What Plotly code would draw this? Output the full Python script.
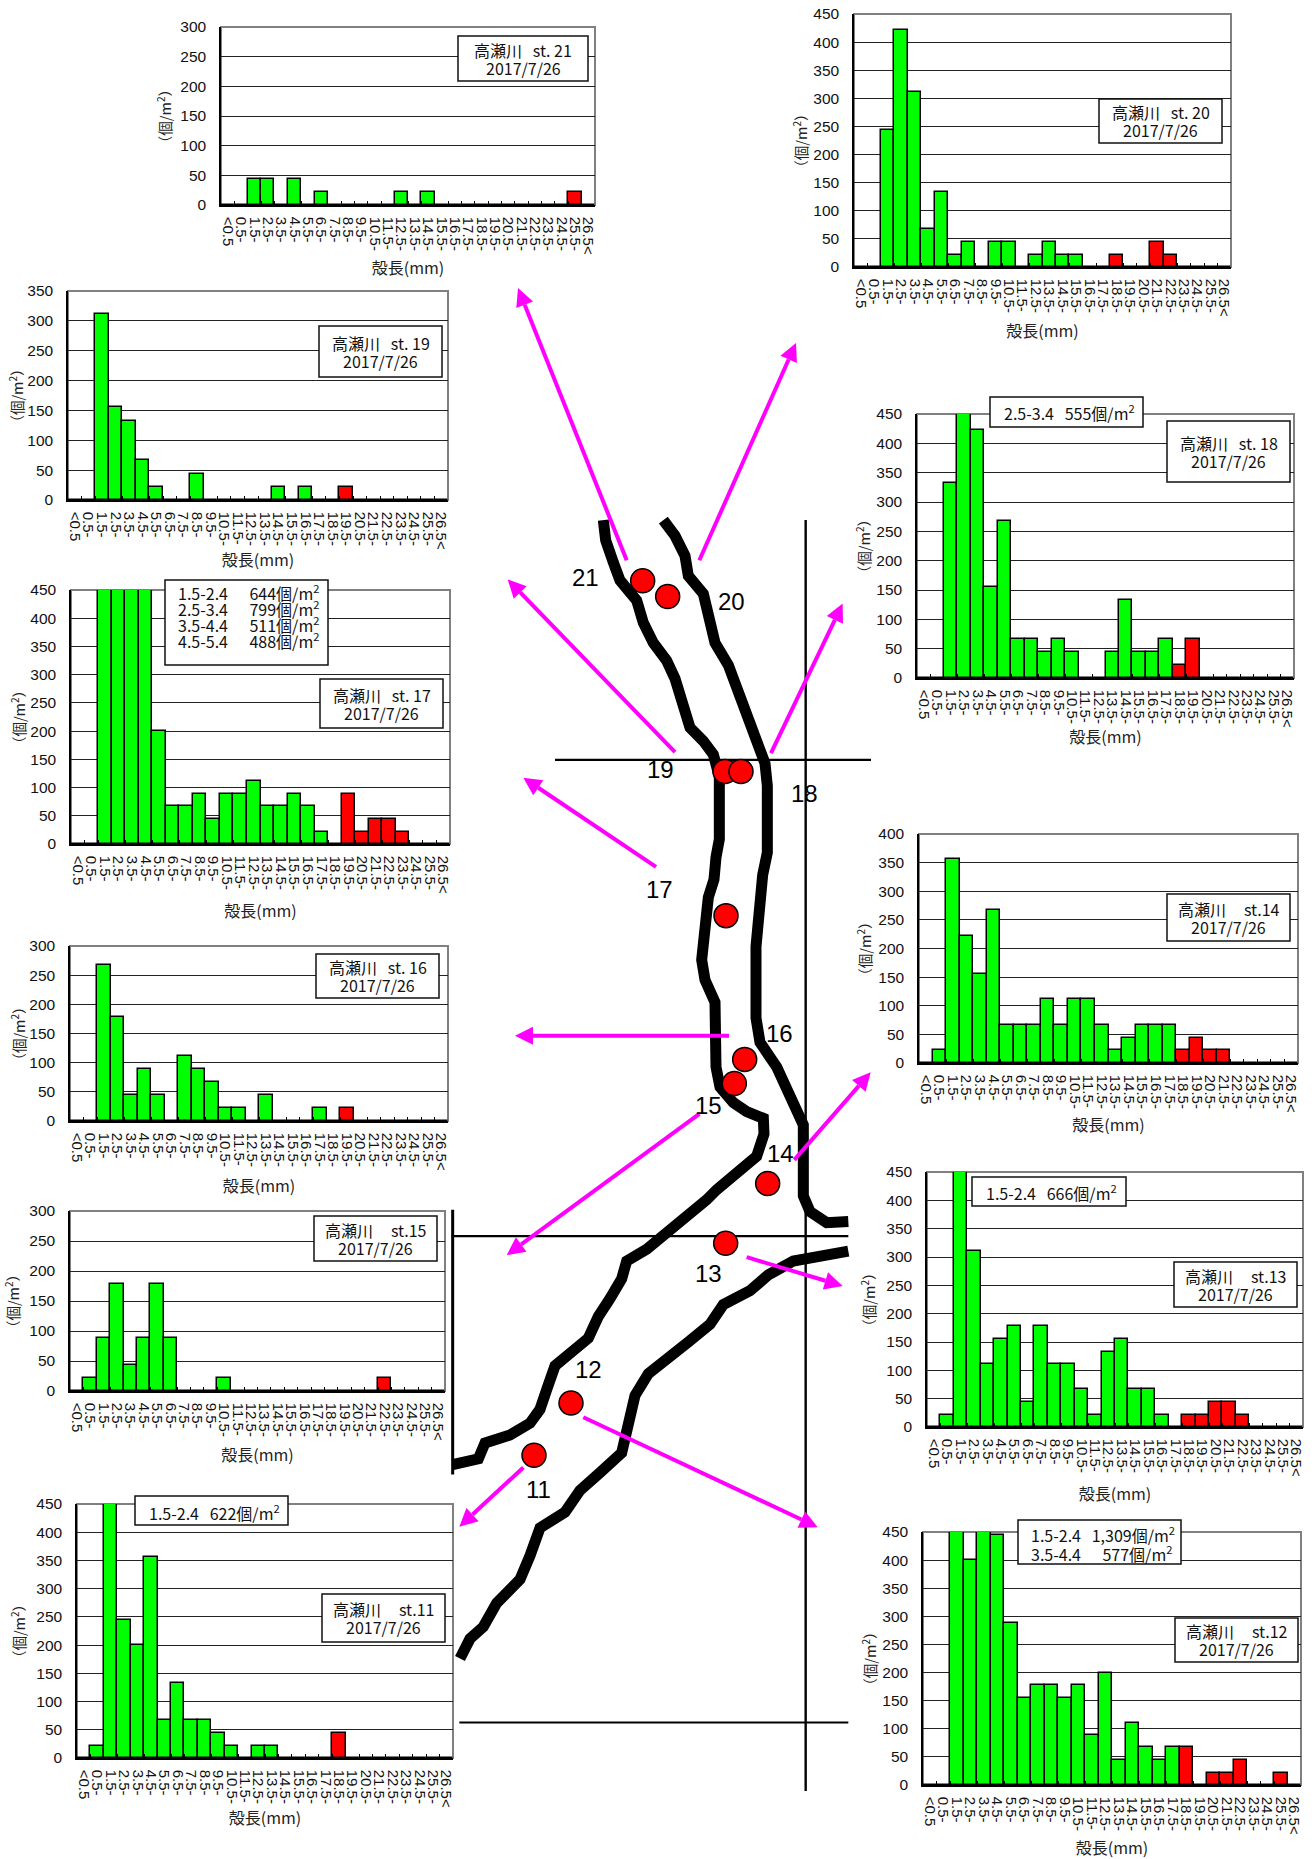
import math
import plotly.graph_objects as go

W, H = 1314, 1859
NB = "\u00a0"
size_classes = ["<0.5"] + [f"{i}.5-" for i in range(0, 26)] + ["26.5<"]

st21 = [0,0,44,44,0,44,0,22,0,0,0,0,0,22,0,22,0,0,0,0,0,0,0,0,0,0,22,0]
st20 = [0,0,244,422,311,67,133,22,44,0,44,44,0,22,44,22,22,0,0,22,0,0,44,22,0,0,0,0]
st19 = [0,0,311,155,133,67,22,0,0,44,0,0,0,0,0,22,0,22,0,0,22,0,0,0,0,0,0,0]
st18 = [0,0,333,555,422,155,267,67,67,44,67,44,0,0,44,133,44,44,67,22,67,0,0,0,0,0,0,0]
st17 = [0,0,644,799,511,488,200,67,67,89,44,89,89,111,67,67,89,67,22,0,89,22,44,44,22,0,0,0]
st16 = [0,0,267,178,44,89,44,0,111,89,67,22,22,0,44,0,0,0,22,0,22,0,0,0,0,0,0,0]
st15 = [0,22,89,178,44,89,178,89,0,0,0,22,0,0,0,0,0,0,0,0,0,0,0,22,0,0,0,0]
st14 = [0,22,356,222,155,267,67,67,67,111,67,111,111,67,22,44,67,67,67,22,44,22,22,0,0,0,0,0]
st13 = [0,22,666,311,111,155,178,44,178,111,111,67,22,133,155,67,67,22,0,22,22,44,44,22,0,0,0,0]
st12 = [0,0,1309,400,577,444,289,155,178,178,155,178,89,200,44,111,67,44,67,67,0,22,22,44,0,0,22,0]
st11 = [0,22,622,244,200,356,67,133,67,67,44,22,0,22,22,0,0,0,0,44,0,0,0,0,0,0,0,0]

# station, values, first red class, y max, frame (x0,x1,y0,y1), xtitle standoff, ytitle standoff
charts = [
    ("21", st21, 26, 300, (221,595,27,205), 9, 5),
    ("20", st20, 19, 450, (854,1231,14,267), 10, 2),
    ("19", st19, 20, 350, (68,448,291,500), 6, 0),
    ("18", st18, 19, 450, (917,1294,414,678), 5, 2),
    ("17", st17, 20, 450, (71,450,590,844), 13, 1),
    ("16", st16, 20, 300, (70,448,946,1121), 11, 0),
    ("15", st15, 23, 300, (70,445,1211,1391), 10, 6),
    ("14", st14, 19, 400, (919,1298,834,1063), 8, 3),
    ("13", st13, 19, 450, (927,1303,1172,1427), 13, 7),
    ("12", st12, 19, 450, (923,1301,1532,1785), 9, 2),
    ("11", st11, 19, 450, (77,453,1504,1758), 6, 7),
]

title_boxes = [
    ("高瀬川" + NB*3 + "st. 21", 458,588,36,81),
    ("高瀬川" + NB*3 + "st. 20", 1099,1222,99,143),
    ("高瀬川" + NB*3 + "st. 19", 319,442,326,377),
    ("高瀬川" + NB*3 + "st. 18", 1167,1290,421,482),
    ("高瀬川" + NB*3 + "st. 17", 320,443,679,728),
    ("高瀬川" + NB*3 + "st. 16", 316,439,954,998),
    ("高瀬川" + NB*5 + "st.15", 314,437,1216,1261),
    ("高瀬川" + NB*5 + "st.14", 1167,1290,894,941),
    ("高瀬川" + NB*5 + "st.13", 1174,1297,1262,1307),
    ("高瀬川" + NB*5 + "st.12", 1175,1298,1618,1662),
    ("高瀬川" + NB*5 + "st.11", 322,445,1594,1642),
]
survey_date = "2017/7/26"

M2 = "個/m<sup>2</sup>"
# text lines, box (x0,x1,y0,y1), text left, first line y, line step
note_boxes = [
    ([f"2.5-3.4{NB*3}555{M2}"], (990,1143,397,427), 1002, 412, 0),
    ([f"1.5-2.4{NB*6}644{M2}", f"2.5-3.4{NB*6}799{M2}", f"3.5-4.4{NB*6}511{M2}", f"4.5-5.4{NB*6}488{M2}"],
     (165,328,580,665), 176, 592, 16),
    ([f"1.5-2.4{NB*3}666{M2}"], (972,1126,1177,1206), 984, 1192, 0),
    ([f"1.5-2.4{NB*3}1,309{M2}", f"3.5-4.4{NB*6}577{M2}"], (1018,1181,1520,1564), 1029, 1534, 19),
    ([f"1.5-2.4{NB*3}622{M2}"], (135,288,1496,1525), 147, 1512, 0),
]

# map geometry, measured on two crops of the picture
def z3(p):
    return (440 + p[0]/3, 500 + p[1]/2.24)
def z4(p):
    return (440 + p[0]/3, 1180 + p[1]/2.529)

river_left = [z3(p) for p in [(490,45),(497,90),(520,140),(540,180),(590,225),(610,275),(640,320),(680,360),(705,400),
              (725,450),(750,510),(790,540),(820,570),(838,620),(838,760),(828,800),(822,850),(805,890),(795,950),
              (785,1030),(795,1075),(825,1125),(828,1270),(840,1315),(880,1350),(920,1370),(970,1385),(972,1420),
              (950,1470),(900,1500),(860,1520),(830,1545)]] + \
             [z4(p) for p in [(800,50),(750,85),(700,115),(660,140),(620,175),(560,205),(545,250),(510,300),(475,345),
              (445,400),(400,430),(345,470),(320,530),(300,580),(270,615),(210,645),(135,665),(115,705),(38,720)]]
river_right = [z3(p) for p in [(670,45),(705,80),(735,125),(745,170),(790,210),(808,270),(825,320),(865,370),(895,430),
               (925,480),(950,530),(975,590),(982,640),(982,790),(968,840),(955,920),(948,1000),(948,1160),(960,1215),
               (1010,1270),(1050,1330),(1090,1400),(1090,1500)]] + [z4(p) for p in [(1090,40),(1110,80),(1160,108),(1225,105)]]
river_lower = [z4(p) for p in [(1225,180),(1150,190),(1060,205),(985,240),(930,280),(850,315),(810,365),(745,410),(690,445),
               (625,490),(585,545),(565,620),(545,690),(480,740),(420,785),(375,840),(300,880),(270,950),(240,1010),
               (170,1070),(130,1130),(90,1160),(60,1210)]]
straight_lines = [
    (z3((345,582)), z3((1293,582)), 2.2), (z3((1097,45)), z4((1097,1545)), 2.4), (z4((35,142)), z4((1225,142)), 2.2),
    (z4((38,75)), z4((38,745)), 3), (z4((58,1372)), z4((1225,1372)), 2.2),
]
stations = [("21",z3((608,181)),z3((437,173))),("20",z3((683,216)),z3((874,227))),("19",z3((855,608)),z3((660,604))),
            ("18",z3((903,608)),z3((1092,657))),("17",z3((858,931)),z3((659,872))),("16",z3((914,1253)),z3((1019,1194))),
            ("15",z3((883,1307)),z3((805,1356))),("14",z3((983,1531)),z3((1022,1463))),("13",z4((857,160)),z4((804,236))),
            ("12",z4((393,564)),z4((445,478))),("11",z4((282,696)),z4((295,782)))]
arrows = [(z3((560,135)),(518,288)),(z3((778,135)),(796,343)),(z3((705,565)),z3((203,178))),(z3((993,567)),z3((1208,232))),
          (z3((648,822)),z3((250,622))),(z3((867,1200)),z3((225,1200))),(z3((778,1375)),z4((200,190))),
          (z3((1063,1478)),z3((1292,1282))),(z4((920,195)),z4((1208,268))),(z4((430,600)),z4((1133,878))),
          (z4((250,727)),z4((58,877)))]

fig = go.Figure()
layout = dict(width=W, height=H, margin=dict(l=0,r=0,t=0,b=0,autoexpand=False), paper_bgcolor="white",
              plot_bgcolor="rgba(0,0,0,0)", showlegend=False, hovermode=False, bargap=0)
shapes, annos = [], []
LAT = "Liberation Sans"
CJK = "Noto Sans CJK JP"

for i, (st, vals, first_red, ymax, (x0,x1,y0,y1), xst, yst) in enumerate(charts, start=1):
    s = "" if i == 1 else str(i)
    fig.add_trace(go.Bar(x=size_classes, y=vals, xaxis=f"x{s}", yaxis=f"y{s}", width=1,
                         marker=dict(color=["#FF0000" if k >= first_red else "#00FF00" for k in range(len(vals))],
                                     line=dict(color="black", width=1.5))))
    layout[f"xaxis{s}"] = dict(domain=[x0/W, x1/W], anchor=f"y{s}", type="category", categoryorder="array",
        categoryarray=size_classes, range=[-0.5,27.5], tickmode="linear", tick0=0, dtick=1, tickangle=90,
        tickson="boundaries", ticks="inside", ticklen=4, tickwidth=1, tickcolor="black", showgrid=False,
        showline=True, linecolor="black", linewidth=1.5, ticklabelstandoff=7,
        tickfont=dict(family=LAT, size=15, color="#111"),
        title=dict(text="殻長(mm)", standoff=xst, font=dict(family=CJK, size=16, color="#222")))
    layout[f"yaxis{s}"] = dict(domain=[1-y1/H, 1-y0/H], anchor=f"x{s}", range=[0,ymax], dtick=50, tick0=0,
        showgrid=True, gridcolor="#222", gridwidth=1, zeroline=False, showline=True, linecolor="black", linewidth=1.5,
        ticks="", ticklabelstandoff=10, tickfont=dict(family=LAT, size=15.5, color="#111"),
        title=dict(text="（個/m<sup>2</sup>）", standoff=yst, font=dict(family=CJK, size=14.5, color="#222")))
    shapes.append(dict(type="rect", xref="paper", yref="paper", x0=x0/W, x1=x1/W, y0=1-y1/H, y1=1-y0/H,
                       line=dict(color="#808080", width=2), layer="below"))

mx, my = "x12", "y12"
layout["xaxis12"] = dict(domain=[0,1], range=[0,W], visible=False, fixedrange=True, anchor="y12")
layout["yaxis12"] = dict(domain=[0,1], range=[H,0], visible=False, fixedrange=True, anchor="x12")

for pts in (river_left, river_right, river_lower):
    fig.add_trace(go.Scatter(x=[p[0] for p in pts], y=[p[1] for p in pts], mode="lines", xaxis=mx, yaxis=my,
                             line=dict(color="black", width=11)))
for a, b, w in straight_lines:
    fig.add_trace(go.Scatter(x=[a[0],b[0]], y=[a[1],b[1]], mode="lines", xaxis=mx, yaxis=my,
                             line=dict(color="black", width=w)))

for (tx, ty), (hx, hy) in arrows:
    L = math.hypot(hx-tx, hy-ty)
    ux, uy = (hx-tx)/L, (hy-ty)/L
    bx, by = hx-ux*18, hy-uy*18
    shapes.append(dict(type="line", xref=mx, yref=my, x0=tx, y0=ty, x1=bx, y1=by,
                       line=dict(color="#FF00FF", width=4), layer="above"))
    path = f"M {hx} {hy} L {bx-uy*9} {by+ux*9} L {bx+uy*9} {by-ux*9} Z"
    shapes.append(dict(type="path", xref=mx, yref=my, path=path, fillcolor="#FF00FF", line=dict(width=0), layer="above"))

for name, (cx, cy), (tx, ty) in stations:
    shapes.append(dict(type="circle", xref=mx, yref=my, x0=cx-12, x1=cx+12, y0=cy-12, y1=cy+12,
                       fillcolor="#FF0000", line=dict(color="black", width=1.5), layer="above"))
    annos.append(dict(x=tx, y=ty, xref=mx, yref=my, text=name, showarrow=False,
                      font=dict(family=LAT, size=24, color="black")))

def box(x0, x1, y0, y1):
    shapes.append(dict(type="rect", xref=mx, yref=my, x0=x0, x1=x1, y0=y0, y1=y1, fillcolor="white",
                       line=dict(color="#111", width=1.5), layer="above"))

for text, x0, x1, y0, y1 in title_boxes:
    box(x0, x1, y0, y1)
    cy = (y0+y1)/2
    for line, yy in ((text, cy-9), (survey_date, cy+9)):
        annos.append(dict(x=(x0+x1)/2, y=yy, xref=mx, yref=my, text=line, showarrow=False,
                          font=dict(family=CJK, size=16, color="#111")))
for lines, (x0, x1, y0, y1), tx, ty, step in note_boxes:
    box(x0, x1, y0, y1)
    for k, line in enumerate(lines):
        annos.append(dict(x=tx, y=ty+k*step, xref=mx, yref=my, text=line, showarrow=False, xanchor="left",
                          font=dict(family=CJK, size=16, color="#111")))

layout["shapes"] = shapes
layout["annotations"] = annos
fig.update_layout(**layout)
fig.write_html("out.html", config={"displayModeBar": False}, post_script="document.body.style.margin='0';")
